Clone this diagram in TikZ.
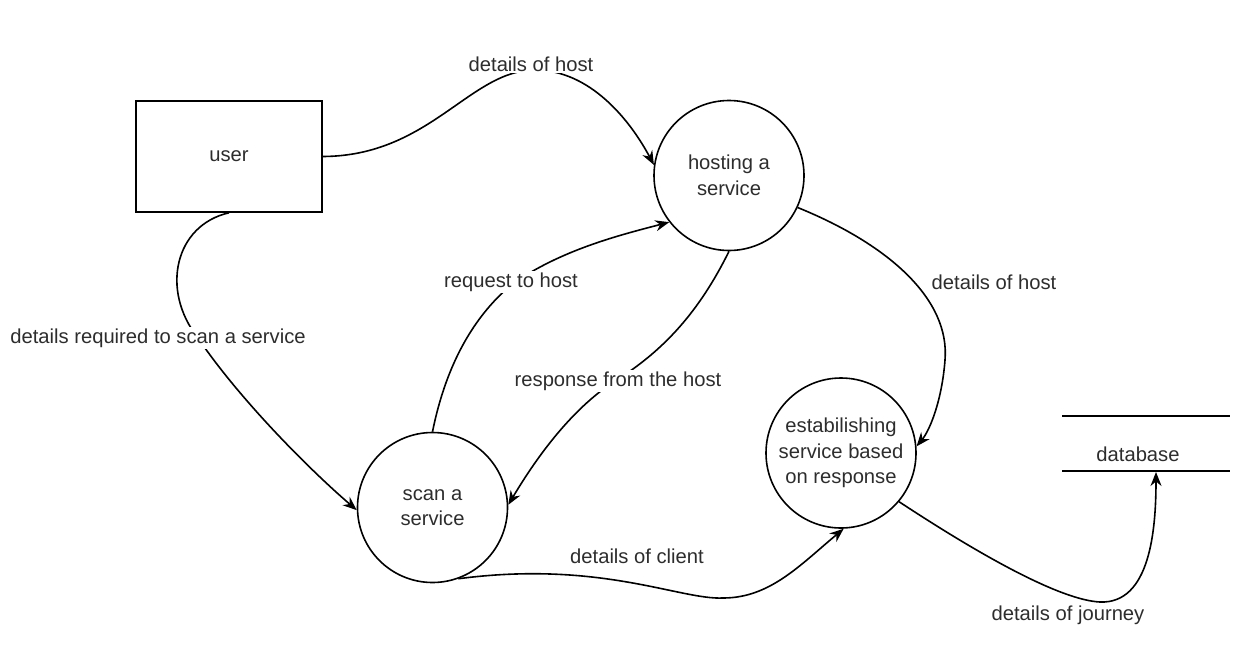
\documentclass[tikz,border=0pt]{standalone}
\usepackage{fontspec}
\setmainfont{Liberation Sans}
\usetikzlibrary{arrows.meta,calc}
\definecolor{textc}{RGB}{45,45,45}
\tikzset{
  every node/.style={font=\fontsize{20.2}{25.5}\selectfont, text=textc},
  proc/.style={draw, circle, line width=1.6pt, minimum size=150pt, inner sep=0pt, align=center},
  ent/.style={draw, rectangle, line width=1.6pt, minimum width=186pt, minimum height=111pt},
  store/.style={rectangle, inner sep=0pt},
  flow/.style={line width=1.6pt, -{Stealth[length=14pt,width=11pt]}},
  lbl/.style={fill=white, inner sep=1.5pt},
}
\begin{document}
\begin{tikzpicture}[x=1pt,y=-1pt]
\useasboundingbox (0,0) rectangle (1258,654);
\node[ent] (user) at (229,156.5) {user};
\node[proc] (host) at (729,175.5) {hosting a\\service};
\node[proc] (scan) at (432.5,507.5) {scan a\\service};
\node[proc] (est) at (841,453) {estabilishing\\service based\\on response};
\node[store] (db) at (1138,454) {database};
\draw[line width=1.6pt] ($(db.center)+(-76,-38)$) -- ++(168,0);
\draw[line width=1.6pt] ($(db.center)+(-76,17)$) -- ++(168,0);
\coordinate (dbin) at ($(db.center)+(18,18)$);

% user -> hosting
\draw[flow] (user.east) .. controls (430,156) and (470,70) .. (535,70)
  .. controls (590,70) and (630,120) .. (host.172);
\node[lbl] (l1) at (531,64) {details of host};

% user -> scan
\draw[flow] (user.south) .. controls (175,225) and (160,290) .. (198,338)
  .. controls (240,400) and (310,470) .. (scan.182);
\node[lbl] (l2) at (158,338) {details required to scan a service};

% scan -> hosting
\draw[flow] (scan.north) .. controls (445,370) and (470,320) .. (511,285)
  .. controls (560,250) and (620,235) .. (host.218);
\node[lbl] (l3) at (511,282) {request to host};

% hosting -> scan
\draw[flow] (host.south) .. controls (700,310) and (665,350) .. (615,381)
  .. controls (570,410) and (535,460) .. (scan.2);
\node[lbl] (l4) at (618,381) {response from the host};

% hosting -> establishing
\draw[flow] (host.335) .. controls (890,245) and (950,300) .. (945,360)
  .. controls (942,400) and (930,430) .. (est.5);
\node[lbl, anchor=west] (l5) at (930,282) {details of host};

% scan -> establishing
\draw[flow] (scan.290) .. controls (600,560) and (680,600) .. (723,598)
  .. controls (770,598) and (800,565) .. (est.272);
\node[lbl] (l6) at (637,556) {details of client};

% establishing -> database
\draw[flow] (est.320) .. controls (980,555) and (1060,600) .. (1100,602)
  .. controls (1150,604) and (1156,530) .. (dbin);
\node[lbl] (l7) at (1068,615) {details of journey};
\end{tikzpicture}
\end{document}
